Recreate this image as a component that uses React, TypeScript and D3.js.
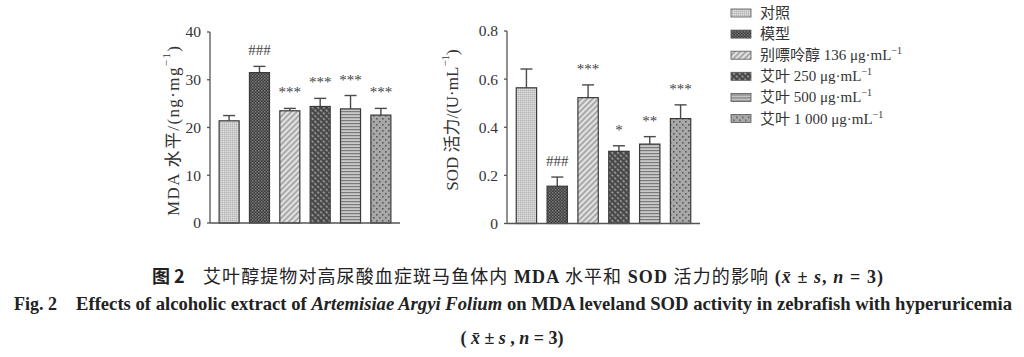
import React from "react";
import * as d3 from "d3";

const groups = ["对照", "模型", "别嘌呤醇 136", "艾叶 250", "艾叶 500", "艾叶 1 000"];
const legendNames = ["对照", "模型", "别嘌呤醇 136 ", "艾叶 250 ", "艾叶 500 ", "艾叶 1 000 "];
const legendUnit = [false, false, true, true, true, true];
const mdaValues = [21.4, 31.5, 23.5, 24.4, 23.9, 22.6];
const mdaSd = [1.1, 1.3, 0.5, 1.7, 2.8, 1.4];
const mdaMarks = ["", "###", "***", "***", "***", "***"];
const mdaTicks = [0, 10, 20, 30, 40];
const sodValues = [0.564, 0.155, 0.523, 0.3, 0.33, 0.436];
const sodSd = [0.078, 0.038, 0.053, 0.023, 0.031, 0.057];
const sodMarks = ["", "###", "***", "*", "**", "***"];
const sodTicks = [0, 0.2, 0.4, 0.6, 0.8];

const SERIF = "'Liberation Serif', 'Times New Roman', 'Noto Sans CJK SC', serif";
const CJK = "'Noto Sans CJK SC', sans-serif";

function Patterns() {
  return (
    <defs>
      <pattern id="p0" width="2" height="2" patternUnits="userSpaceOnUse">
        <rect width="2" height="2" fill="#cdcdcd" />
        <rect width="1" height="1" fill="#b2b2b2" />
        <rect x="1" y="1" width="1" height="1" fill="#dcdcdc" />
      </pattern>
      <pattern id="p1" width="3" height="3" patternUnits="userSpaceOnUse">
        <rect width="3" height="3" fill="#3c3c3c" />
        <rect width="1.5" height="1.5" fill="#7c7c7c" />
        <rect x="1.5" y="1.5" width="1.5" height="1.5" fill="#6a6a6a" />
      </pattern>
      <pattern id="p2" width="4" height="4" patternUnits="userSpaceOnUse" patternTransform="rotate(45)">
        <rect width="4" height="4" fill="#e2e2e2" />
        <line x1="1" y1="0" x2="1" y2="4" stroke="#8a8a8a" strokeWidth="1.3" />
      </pattern>
      <pattern id="p3" width="4" height="4" patternUnits="userSpaceOnUse" patternTransform="rotate(-45)">
        <rect width="4" height="4" fill="#474747" />
        <rect x="0" y="0" width="1.6" height="2.4" fill="#a0a0a0" />
      </pattern>
      <pattern id="p4" width="3" height="3" patternUnits="userSpaceOnUse">
        <rect width="3" height="3" fill="#cacaca" />
        <rect y="0" width="3" height="1.2" fill="#7a7a7a" />
      </pattern>
      <pattern id="p5" width="6" height="6" patternUnits="userSpaceOnUse">
        <rect width="6" height="6" fill="#a8a8a8" />
        <rect x="1" y="1" width="1.6" height="1.6" fill="#5a5a5a" />
        <rect x="4" y="4" width="1.6" height="1.6" fill="#5a5a5a" />
      </pattern>
    </defs>
  );
}

type PanelProps = {
  x0: number; x1: number; yTop: number; yBottom: number;
  max: number; ticks: number[]; values: number[]; sd: number[]; marks: string[];
  fmt: (v: number) => string; labelX: number; labelY: number; labelLen?: number;
  labelMain: string;
};

function Panel(p: PanelProps) {
  const x = d3.scaleBand<string>().domain(groups).range([p.x0, p.x1]).paddingInner(0.34).paddingOuter(0.3);
  const y = d3.scaleLinear().domain([0, p.max]).range([p.yBottom, p.yTop]);
  const bw = x.bandwidth();
  return (
    <g>
      {groups.map((g, i) => {
        const cx = (x(g) as number) + bw / 2;
        const top = y(p.values[i]);
        const et = y(p.values[i] + p.sd[i]);
        return (
          <g key={g}>
            <line x1={cx} x2={cx} y1={top} y2={et} stroke="#4a4a4a" strokeWidth={1.4} />
            <line x1={cx - 6} x2={cx + 6} y1={et} y2={et} stroke="#4a4a4a" strokeWidth={1.4} />
            <rect x={x(g)} y={top} width={bw} height={p.yBottom - top} fill={`url(#p${i})`} stroke="#3a3a3a" strokeWidth={1.2} />
            {p.marks[i] && (
              <text x={cx} y={et - 11} textAnchor="middle" fontFamily={SERIF} fontSize={15} fill="#444">
                {p.marks[i]}
              </text>
            )}
          </g>
        );
      })}
      <line x1={p.x0} x2={p.x0} y1={p.yTop} y2={p.yBottom} stroke="#555" strokeWidth={1.3} />
      <line x1={p.x0} x2={p.x1} y1={p.yBottom} y2={p.yBottom} stroke="#555" strokeWidth={1.3} />
      {p.ticks.map((t) => (
        <g key={t}>
          <line x1={p.x0 - 3} x2={p.x0} y1={y(t)} y2={y(t)} stroke="#555" strokeWidth={1.3} />
          <text x={p.x0 - 9} y={y(t)} dy="0.35em" textAnchor="end" fontFamily={SERIF} fontSize={15.5} fill="#333">
            {p.fmt(t)}
          </text>
        </g>
      ))}
      <text
        transform={`translate(${p.labelX},${p.labelY}) rotate(-90)`}
        textAnchor="middle"
        dominantBaseline="central"
        fontFamily={SERIF}
        fontSize={17}
        fill="#333"
        {...(p.labelLen ? { textLength: p.labelLen, lengthAdjust: "spacing" } : {})}
      >
        {p.labelMain}
        <tspan fontSize={11} dy={-7}>−1</tspan>
        <tspan dy={7}>)</tspan>
      </text>
    </g>
  );
}

export default function App() {
  return (
    <svg width={1024} height={357} style={{ position: "absolute", left: 0, top: 0, background: "#fff" }}>
      <Patterns />
      <rect width={1024} height={357} fill="#fff" />
      <Panel x0={210} x1={400} yTop={32} yBottom={223} max={40} ticks={mdaTicks} values={mdaValues} sd={mdaSd}
        marks={mdaMarks} fmt={(v) => String(v)} labelX={173} labelY={131} labelLen={170}
        labelMain="MDA 水平/(ng·mg" />
      <Panel x0={507} x1={700} yTop={31} yBottom={223.5} max={0.8} ticks={sodTicks} values={sodValues} sd={sodSd}
        marks={sodMarks} fmt={(v) => (v === 0 ? "0" : v.toFixed(1))} labelX={452} labelY={120}
        labelMain="SOD 活力/(U·mL" />
      {legendNames.map((n, i) => (
        <g key={n} transform={`translate(0,${13 + i * 21.1})`}>
          <rect x={731} y={-4} width={20} height={8} fill={`url(#p${i})`} stroke="#555" strokeWidth={0.8} />
          <text x={760} y={0} dominantBaseline="central" fontFamily={SERIF} fontSize={15} fill="#333">
            {n}
            {legendUnit[i] && <tspan>μg·mL</tspan>}
            {legendUnit[i] && <tspan fontSize={10} dy={-5}>−1</tspan>}
          </text>
        </g>
      ))}
      <text x={152} y={283} fontFamily={CJK} fontWeight="bold" fontSize={18} fill="#222">图 2</text>
      <text x={203} y={283} fontFamily={CJK} fontSize={18} fill="#222" textLength={680} lengthAdjust="spacing">
        艾叶醇提物对高尿酸血症斑马鱼体内
        <tspan fontFamily={SERIF} fontWeight="bold"> MDA </tspan>水平和
        <tspan fontFamily={SERIF} fontWeight="bold"> SOD </tspan>活力的影响
        <tspan fontFamily={SERIF} fontWeight="bold">  (<tspan fontStyle="italic">x̄</tspan> ± <tspan fontStyle="italic">s</tspan>, <tspan fontStyle="italic">n</tspan> = 3)</tspan>
      </text>
      <text x={14} y={310} fontFamily={SERIF} fontWeight="bold" fontSize={18} fill="#222">Fig. 2</text>
      <text x={76} y={310} fontFamily={SERIF} fontWeight="bold" fontSize={18} fill="#222" textLength={936} lengthAdjust="spacingAndGlyphs">
        Effects of alcoholic extract of <tspan fontStyle="italic">Artemisiae Argyi Folium</tspan> on MDA leveland SOD activity in zebrafish with hyperuricemia
      </text>
      <text x={512} y={344} textAnchor="middle" fontFamily={SERIF} fontWeight="bold" fontSize={18} fill="#222">
        ( <tspan fontStyle="italic">x̄</tspan> ± <tspan fontStyle="italic">s</tspan> , <tspan fontStyle="italic">n</tspan> = 3)
      </text>
    </svg>
  );
}
